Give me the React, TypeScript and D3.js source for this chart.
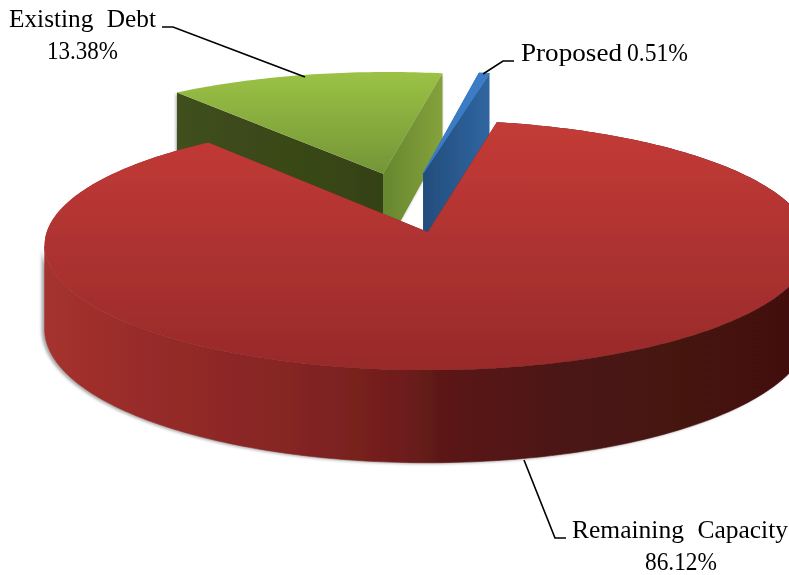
import React from "react";
import * as d3 from "d3";

const categories = ["Existing Debt", "Proposed", "Remaining Capacity"];
const shares = [13.38, 0.51, 86.12];

const WIDTH = 789;
const HEIGHT = 575;
const START_DEG = -38.5;
const EXPLODE = 0.256;
const CENTRE = { u: -0.062, v: -0.248 };
const PERSPECTIVE = 0.104;
const RX = 381;
const RY = 123.6;
const CX = 428.6;
const CY = 232;
const DEPTH = 83;

type Pt = [number, number];
const project = (u: number, v: number, z = 0): Pt => {
  const w = 1 / (1 - PERSPECTIVE * v);
  return [CX + RX * u * w, CY + RY * v * w + z * DEPTH * w];
};

const toRad = (d: number) => (d * Math.PI) / 180;
const pie = d3
  .pie<number>()
  .sort(null)
  .startAngle(toRad(START_DEG))
  .endAngle(toRad(START_DEG + 360));
const arcs = pie(shares);
const line = d3.line<Pt>().curve(d3.curveLinear);

const slices = arcs.map((a) => {
  const mid = (a.startAngle + a.endAngle) / 2;
  const ax = CENTRE.u + EXPLODE * Math.sin(mid);
  const ay = CENTRE.v - EXPLODE * Math.cos(mid);
  const n = Math.max(2, Math.ceil(((a.endAngle - a.startAngle) * 180) / Math.PI));
  const angles = d3.range(n + 1).map((i) => a.startAngle + ((a.endAngle - a.startAngle) * i) / n);
  const rim = (z: number) =>
    angles.map((t) => project(ax + Math.sin(t), ay - Math.cos(t), z));
  const apexTop = project(ax, ay, 0);
  const apexBot = project(ax, ay, 1);
  const top = rim(0);
  const bot = rim(1);
  // only the stretch of rim between the two horizontal extremes faces the viewer
  const iMax = d3.greatestIndex(top, (p) => p[0]) ?? 0;
  const iMin = d3.leastIndex(top, (p) => p[0]) ?? n;
  const frontTop = top.slice(iMax, iMin + 1);
  const frontBot = bot.slice(iMax, iMin + 1).reverse();
  return {
    face: line([apexTop, ...top])! + "Z",
    side: frontTop.length > 1 ? line([...frontTop, ...frontBot])! + "Z" : "",
    startWall: line([apexTop, top[0], bot[0], apexBot])! + "Z",
    endWall: line([apexTop, top[top.length - 1], bot[bot.length - 1], apexBot])! + "Z",
  };
});

const redSideStops: [number, string][] = [
  [0, "#a5312e"],
  [0.15, "#962b29"],
  [0.33, "#852523"],
  [0.48, "#6f1d1c"],
  [0.53, "#5c1917"],
  [0.7, "#4c1513"],
  [0.85, "#451211"],
  [1, "#431110"],
];

const serif = "'Liberation Serif', 'Times New Roman', serif";

type Lab = { text: string; x: number; y: number; len: number; ws?: number };
const labels: Lab[] = [
  { text: categories[0], x: 9, y: 27, len: 147, ws: 7 },
  { text: shares[0].toFixed(2) + "%", x: 47, y: 59, len: 71 },
  { text: categories[1], x: 521, y: 61, len: 101 },
  { text: shares[1].toFixed(2) + "%", x: 627, y: 61, len: 61 },
  { text: categories[2], x: 572, y: 538, len: 216, ws: 7 },
  { text: shares[2].toFixed(2) + "%", x: 645, y: 570, len: 72 },
];

const leaders: Pt[][] = [
  [[162, 27], [173, 27], [305, 77]],
  [[483, 74], [503, 61], [514, 61]],
  [[524, 460], [555, 538], [566, 538]],
];

export default function App() {
  const [green, blue, red] = slices;
  return (
    <svg
      width={WIDTH}
      height={HEIGHT}
      viewBox={`0 0 ${WIDTH} ${HEIGHT}`}
      style={{ position: "absolute", left: 0, top: 0, background: "#fff" }}
    >
      <defs>
        <filter id="soft" x="-5%" y="-5%" width="110%" height="110%">
          <feGaussianBlur stdDeviation="1.6" />
        </filter>
        <filter id="crisp" x="-2%" y="-2%" width="104%" height="104%">
          <feGaussianBlur stdDeviation="0.5" />
        </filter>
        <linearGradient id="redFace" gradientUnits="userSpaceOnUse" x1="0" y1="122" x2="0" y2="370">
          <stop offset="0" stopColor="#c43b37" />
          <stop offset="1" stopColor="#982a2a" />
        </linearGradient>
        <linearGradient id="redSide" gradientUnits="userSpaceOnUse" x1="45" y1="0" x2="789" y2="0">
          {redSideStops.map(([o, c]) => (
            <stop key={o} offset={o} stopColor={c} />
          ))}
        </linearGradient>
        <linearGradient id="greenFace" gradientUnits="userSpaceOnUse" x1="0" y1="73" x2="0" y2="175">
          <stop offset="0" stopColor="#9bc245" />
          <stop offset="1" stopColor="#739436" />
        </linearGradient>
        <linearGradient id="greenLeft" gradientUnits="userSpaceOnUse" x1="178" y1="0" x2="382" y2="0">
          <stop offset="0" stopColor="#3f4f1c" />
          <stop offset="1" stopColor="#354216" />
        </linearGradient>
        <linearGradient id="greenRight" gradientUnits="userSpaceOnUse" x1="382" y1="0" x2="441" y2="0">
          <stop offset="0" stopColor="#66862e" />
          <stop offset="1" stopColor="#84a13b" />
        </linearGradient>
        <linearGradient id="blueWall" gradientUnits="userSpaceOnUse" x1="422" y1="0" x2="487" y2="0">
          <stop offset="0" stopColor="#234c7c" />
          <stop offset="1" stopColor="#2f659f" />
        </linearGradient>
      </defs>

      <g filter="url(#soft)" fill="#8a8a8a" opacity={0.75}>
        <path d={green.startWall} transform="translate(-1,1)" />
        <path d={green.endWall} transform="translate(-1,1)" />
        <path d={red.side} transform="translate(-3,1)" />
      </g>

      <g filter="url(#crisp)">
        <path d={green.startWall} fill="url(#greenLeft)" />
        <path d={green.endWall} fill="url(#greenRight)" />
        <path d={green.face} fill="url(#greenFace)" />

        <path d={blue.startWall} fill="url(#blueWall)" />
        <path d={blue.endWall} fill="url(#blueWall)" />
        <path d={blue.face} fill="#3a7cc4" stroke="#3a7cc4" strokeWidth={1} />

        <path d={red.side} fill="url(#redSide)" stroke="url(#redSide)" strokeWidth={0.6} />
        <path d={red.face} fill="url(#redSide)" />
        <path d={red.face} fill="url(#redFace)" />
      </g>

      <g fill="none" stroke="#000" strokeWidth={1.6}>
        {leaders.map((l, i) => (
          <path key={i} d={line(l)!} />
        ))}
      </g>

      <g fontFamily={serif} fontSize={25} fill="#000">
        {labels.map((l) => (
          <text
            key={l.text}
            x={l.x}
            y={l.y}
            textLength={l.len}
            lengthAdjust="spacingAndGlyphs"
            style={l.ws ? { wordSpacing: l.ws } : undefined}
          >
            {l.text}
          </text>
        ))}
      </g>
    </svg>
  );
}
